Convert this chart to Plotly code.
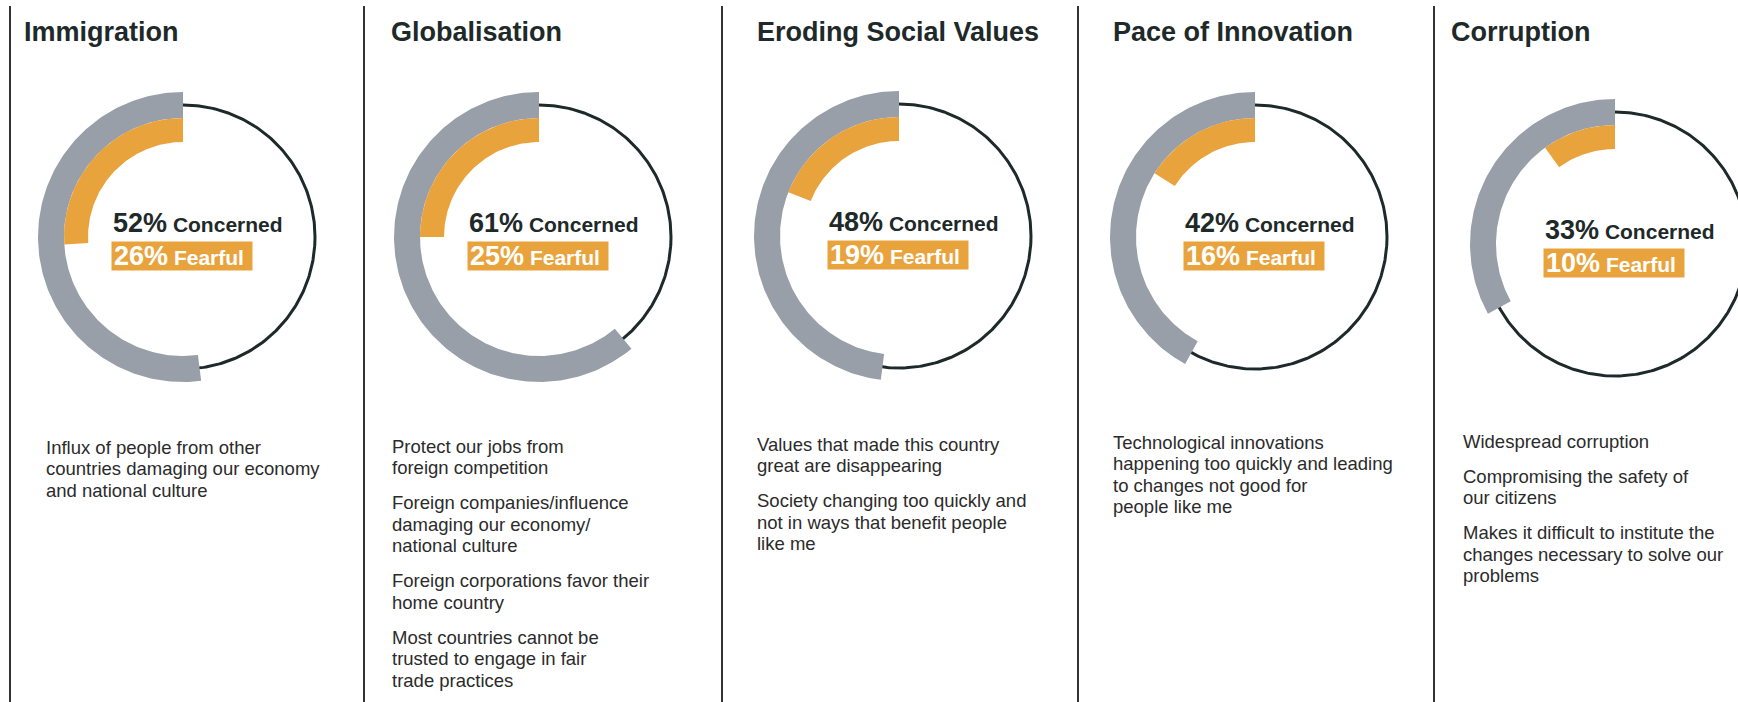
import numpy as np
import plotly.graph_objects as go

# ---- data -------------------------------------------------------------
topics = ["Immigration", "Globalisation", "Eroding Social Values",
          "Pace of Innovation", "Corruption"]
concerned = [52, 61, 48, 42, 33]
fearful = [26, 25, 19, 16, 10]
descriptions = [
    [["Influx of people from other", "countries damaging our economy",
      "and national culture"]],
    [["Protect our jobs from", "foreign competition"],
     ["Foreign companies/influence", "damaging our economy/", "national culture"],
     ["Foreign corporations favor their", "home country"],
     ["Most countries cannot be", "trusted to engage in fair", "trade practices"]],
    [["Values that made this country", "great are disappearing"],
     ["Society changing too quickly and", "not in ways that benefit people",
      "like me"]],
    [["Technological innovations", "happening too quickly and leading",
      "to changes not good for", "people like me"]],
    [["Widespread corruption"],
     ["Compromising the safety of", "our citizens"],
     ["Makes it difficult to institute the", "changes necessary to solve our",
      "problems"]],
]

# ---- layout geometry (pixel space) -----------------------------------
W, H = 1738, 702
dividers = [10, 364, 722, 1078, 1434]
cx = [183, 539, 899, 1255, 1615]
cy = [237, 237, 236, 237, 244]
title_x = [22, 389, 755, 1111, 1449]
text_x = [44, 390, 755, 1111, 1461]
first_baseline = [453, 452, 450, 448, 447]

R_GREY = (119, 145)
R_ORANGE = (95, 119)
R_RING = 132
LINE_H = 21.5
PARA_GAP = 13.5

GREY = "#989fa8"
ORANGE = "#e9a33c"
DARK = "#1e2929"
TEXT = "#2b2b2b"
FONT = "Liberation Sans, Arial, Helvetica, sans-serif"


def sector(x0, y0, r_in, r_out, pct):
    """Annular sector starting at 12 o'clock, running counter-clockwise."""
    span = pct * 3.6
    n = max(int(span), 2) + 1
    t = np.radians(np.linspace(90, 90 + span, n))
    xs = np.concatenate([x0 + r_out * np.cos(t), x0 + r_in * np.cos(t[::-1])])
    ys = np.concatenate([y0 - r_out * np.sin(t), y0 - r_in * np.sin(t[::-1])])
    return np.append(xs, xs[0]), np.append(ys, ys[0])


fig = go.Figure()
annotations = []
shapes = []

for i, topic in enumerate(topics):
    # full reference ring
    t = np.radians(np.linspace(0, 360, 361))
    fig.add_trace(go.Scatter(
        x=cx[i] + R_RING * np.cos(t), y=cy[i] - R_RING * np.sin(t),
        mode="lines", line=dict(color=DARK, width=3),
        hoverinfo="skip", showlegend=False))
    # concerned arc
    gx, gy = sector(cx[i], cy[i], R_GREY[0], R_GREY[1], concerned[i])
    fig.add_trace(go.Scatter(
        x=gx, y=gy, mode="lines", fill="toself", fillcolor=GREY,
        line=dict(width=0, color=GREY), hoverinfo="skip", showlegend=False))
    # fearful arc
    ox, oy = sector(cx[i], cy[i], R_ORANGE[0], R_ORANGE[1], fearful[i])
    fig.add_trace(go.Scatter(
        x=ox, y=oy, mode="lines", fill="toself", fillcolor=ORANGE,
        line=dict(width=0, color=ORANGE), hoverinfo="skip", showlegend=False))

    # title
    annotations.append(dict(
        x=title_x[i], y=32, xref="x", yref="y", xanchor="left", yanchor="middle",
        text=f"<b>{topic}</b>", showarrow=False,
        font=dict(family=FONT, size=27, color=DARK)))

    # centre labels
    annotations.append(dict(
        x=cx[i] - 72, y=cy[i] - 14, xref="x", yref="y",
        xanchor="left", yanchor="middle", showarrow=False,
        text=(f"<b><span style='font-size:27px'>{concerned[i]}%</span>"
              f"<span style='font-size:21px'> Concerned</span></b>"),
        font=dict(family=FONT, size=21, color=DARK)))
    annotations.append(dict(
        x=cx[i] - 72, y=cy[i] + 4, xref="x", yref="y",
        xanchor="left", yanchor="top", showarrow=False,
        width=136, height=24, borderpad=2, align="left", valign="middle",
        bgcolor=ORANGE,
        text=(f"<b><span style='font-size:27px'>{fearful[i]}%</span>"
              f"<span style='font-size:21px'> Fearful</span></b>"),
        font=dict(family=FONT, size=21, color="white")))

    # description paragraphs
    base = first_baseline[i]
    for para in descriptions[i]:
        for line in para:
            annotations.append(dict(
                x=text_x[i], y=base - 6, xref="x", yref="y",
                xanchor="left", yanchor="middle", showarrow=False,
                text=line, font=dict(family=FONT, size=18.5, color=TEXT)))
            base += LINE_H
        base += PARA_GAP

for xd in dividers:
    shapes.append(dict(type="line", xref="x", yref="y", x0=xd, x1=xd,
                       y0=6, y1=H, line=dict(color="#333333", width=2)))

fig.update_layout(
    width=W, height=H,
    margin=dict(l=0, r=0, t=0, b=0),
    paper_bgcolor="white", plot_bgcolor="white",
    xaxis=dict(range=[0, W], visible=False, fixedrange=True),
    yaxis=dict(range=[H, 0], visible=False, fixedrange=True),
    annotations=annotations, shapes=shapes,
    showlegend=False,
)

fig.write_html("out.html")
